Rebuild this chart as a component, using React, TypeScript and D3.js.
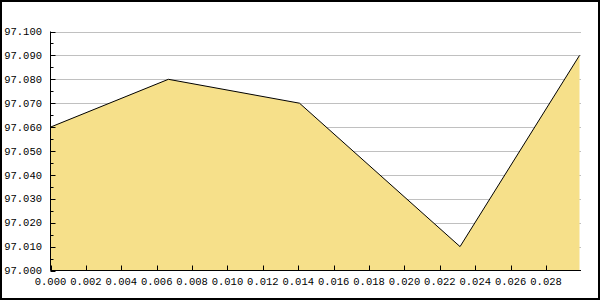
import React from "react";
import * as d3 from "d3";

const xValues = [0, 0.00666, 0.01407, 0.02314, 0.02989];
const yValues = [97.06, 97.08, 97.07, 97.01, 97.09];
const yTicks = [97.0, 97.01, 97.02, 97.03, 97.04, 97.05, 97.06, 97.07, 97.08, 97.09, 97.1];
const xTicks = [0, 0.002, 0.004, 0.006, 0.008, 0.01, 0.012, 0.014, 0.016, 0.018, 0.02, 0.022, 0.024, 0.026, 0.028];

const W = 600;
const H = 300;
const left = 50.5;
const right = 579.5;
const bottom = 270.5;
const top = 31.5;
const font = "'Liberation Mono', monospace";

export default function App() {
  const x = d3.scaleLinear().domain([0, xValues[xValues.length - 1]]).range([left, right]);
  const y = d3.scaleLinear().domain([97.0, 97.1]).range([bottom, top]);
  const pts: [number, number][] = xValues.map((v, i) => [v, yValues[i]]);
  const area = d3
    .area<[number, number]>()
    .x((d) => x(d[0]))
    .y0(bottom)
    .y1((d) => y(d[1]));
  const line = d3
    .line<[number, number]>()
    .x((d) => x(d[0]))
    .y((d) => y(d[1]));
  const minor = d3.range(0, 10).map((i) => 97.005 + i * 0.01);

  return (
    <div style={{ position: "fixed", left: 0, top: 0 }}>
      <svg width={W} height={H} style={{ display: "block" }}>
        <rect x={0} y={0} width={W} height={H} fill="#ffffff" />
        {yTicks.slice(1).map((t) => (
          <line key={"g" + t} x1={left} x2={581} y1={Math.round(y(t)) + 0.5} y2={Math.round(y(t)) + 0.5} stroke="#c0c0c0" strokeWidth={1} />
        ))}
        <path d={area(pts) || ""} fill="#f6e08a" stroke="none" />
        <path d={line(pts) || ""} fill="none" stroke="#000000" strokeWidth={1} />
        <line x1={left} x2={left} y1={top} y2={bottom} stroke="#000" strokeWidth={1} />
        <line x1={left} x2={581} y1={bottom} y2={bottom} stroke="#000" strokeWidth={1} />
        {yTicks.map((t) => (
          <g key={"y" + t}>
            <line x1={left} x2={left + 5} y1={Math.round(y(t)) + 0.5} y2={Math.round(y(t)) + 0.5} stroke="#000" />
            <text x={42} y={y(t)} dy="0.35em" textAnchor="end" fontFamily={font} fontSize={10.5} fill="#000">
              {d3.format(".3f")(t)}
            </text>
          </g>
        ))}
        {minor.map((t) => (
          <line key={"m" + t} x1={left} x2={left + 3} y1={Math.round(y(t)) + 0.5} y2={Math.round(y(t)) + 0.5} stroke="#000" />
        ))}
        {xTicks.map((t) => (
          <g key={"x" + t}>
            <line x1={Math.round(x(t)) + 0.5} x2={Math.round(x(t)) + 0.5} y1={bottom - 5} y2={bottom} stroke="#000" />
            <text x={x(t)} y={284.5} textAnchor="middle" fontFamily={font} fontSize={10.5} fill="#000">
              {d3.format(".3f")(t)}
            </text>
          </g>
        ))}
        <rect x={1} y={1} width={W - 2} height={H - 2} fill="none" stroke="#000" strokeWidth={2} />
      </svg>
    </div>
  );
}
